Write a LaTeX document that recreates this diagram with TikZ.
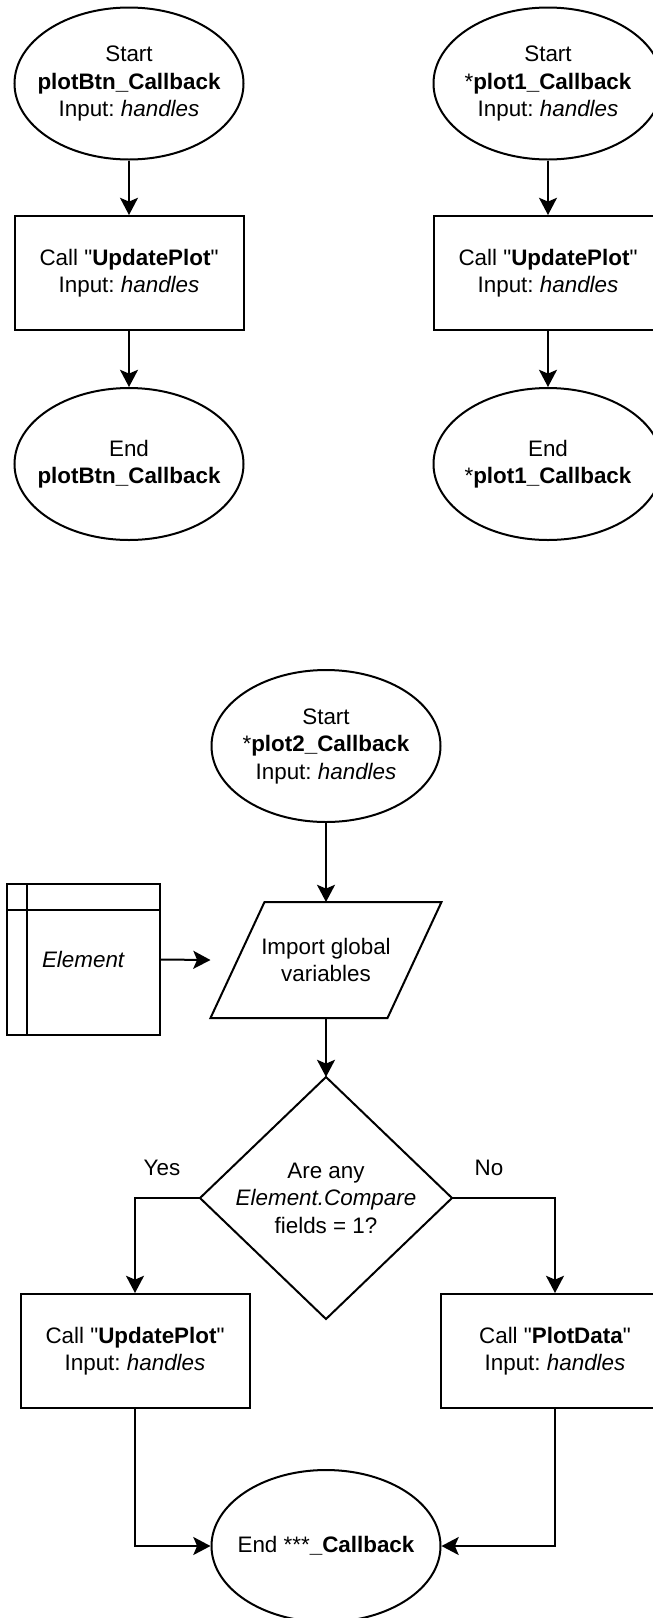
\documentclass[tikz,border=0pt]{standalone}
\usepackage{fontspec}
\setmainfont{Liberation Sans}
\usetikzlibrary{arrows.meta,shapes.geometric}
\newcommand{\qq}{\textquotedbl}
\frenchspacing
\begin{document}
\begin{tikzpicture}[x=0.5pt,y=-0.5pt,line width=1pt,
  every node/.style={font=\fontsize{11.2pt}{13.75pt}\selectfont, align=center, inner sep=0pt},
  term/.style={ellipse, draw, line width=1pt, inner xsep=-10pt, minimum width=114.5pt, minimum height=76pt},
  proc/.style={rectangle, draw, line width=1pt, minimum width=114.5pt, minimum height=57pt},
  para/.style={rectangle, minimum width=114.5pt, minimum height=57pt},
  decis/.style={rectangle, minimum width=125pt, minimum height=120pt},
  store/.style={rectangle, draw, line width=1pt, minimum width=76.5pt, minimum height=75.5pt},
  flow/.style={-{Stealth[length=8.6pt,width=9pt,inset=1.9pt]}, line width=1pt}]
\clip (0,0) rectangle (653,1618);
\fill[white] (0,0) rectangle (653,1618);

% column 1
\node[term] (s1) at (129,83.5) {Start\\\textbf{plotBtn\_Callback}\\Input: \textit{handles}};
\node[proc] (b1) at (129,273) {Call \qq\textbf{UpdatePlot}\qq\\Input: \textit{handles}};
\node[term] (e1) at (129,464) {End\\\textbf{plotBtn\_Callback}};
\draw[flow] (s1.south) -- (b1.north);
\draw[flow] (b1.south) -- (e1.north);

% column 2
\node[term] (s2) at (548,83.5) {Start\\*\textbf{plot1\_Callback}\\Input: \textit{handles}};
\node[proc] (b2) at (548,273) {Call \qq\textbf{UpdatePlot}\qq\\Input: \textit{handles}};
\node[term] (e2) at (548,464) {End\\*\textbf{plot1\_Callback}};
\draw[flow] (s2.south) -- (b2.north);
\draw[flow] (b2.south) -- (e2.north);

% lower chart
\node[term] (s3) at (326,746) {Start\\*\textbf{plot2\_Callback}\\Input: \textit{handles}};
\node[para] (imp) at (326,960) {Import global\\variables};
\draw ([xshift=27pt]imp.north west) -- (imp.north east) -- ([xshift=-27pt]imp.south east) -- (imp.south west) -- cycle;
\node[store] (elem) at (83.5,959.5) {\textit{Element}};
\draw ([xshift=10.5pt]elem.north west) -- ([xshift=10.5pt]elem.south west);
\draw ([yshift=-13.5pt]elem.north west) -- ([yshift=-13.5pt]elem.north east);
\node[decis] (dec) at (326,1198) {Are any\\\textit{Element.Compare}\\fields = 1?};
\draw (dec.north) -- (dec.east) -- (dec.south) -- (dec.west) -- cycle;
\node (yes) at (162,1168) {Yes};
\node (no) at (489,1168) {No};
\node[proc] (b3) at (135,1351) {Call \qq\textbf{UpdatePlot}\qq\\Input: \textit{handles}};
\node[proc] (b4) at (555,1351) {Call \qq\textbf{PlotData}\qq\\Input: \textit{handles}};
\node[term] (e3) at (326,1546) {End ***\textbf{\_Callback}};

\draw[flow] (s3.south) -- (imp.north);
\draw[flow] (elem.east) -- (imp.west);
\draw[flow] (imp.south) -- (dec.north);
\draw[flow] (dec.west) -| (b3.north);
\draw[flow] (dec.east) -| (b4.north);
\draw[flow] (b3.south) |- (e3.west);
\draw[flow] (b4.south) |- (e3.east);
\end{tikzpicture}
\end{document}
